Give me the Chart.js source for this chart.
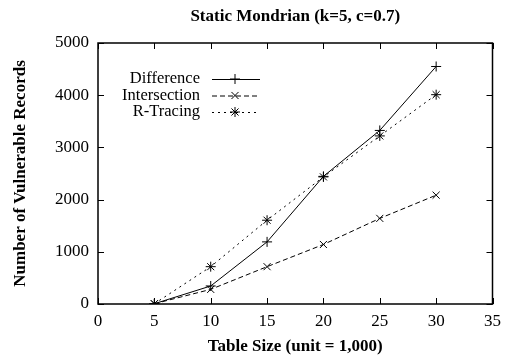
<!DOCTYPE html>
<html><head><meta charset="utf-8">
<script src="https://cdn.jsdelivr.net/npm/chart.js@4/dist/chart.umd.min.js"></script>
<style>html,body{margin:0;padding:0;background:#fff}#wrap{width:508px;height:360px}</style>
</head><body><div id="wrap"><canvas id="c" width="508" height="360"></canvas></div>
<script>
const tableSizes = [5, 10, 15, 20, 25, 30];
const difference = [5, 345, 1190, 2445, 3325, 4550];
const intersection = [5, 280, 715, 1140, 1640, 2085];
const rTracing = [5, 715, 1605, 2435, 3220, 4010];
const xTicks = [0, 5, 10, 15, 20, 25, 30, 35];
const yTicks = [0, 1000, 2000, 3000, 4000, 5000];
const seriesNames = ['Difference', 'Intersection', 'R-Tracing'];

const serif = "'Liberation Serif', 'Times New Roman', serif";
const pts = arr => tableSizes.map((x, i) => ({x, y: arr[i]}));

const inwardTicks = {
  id: 'inwardTicks',
  afterDraw(chart) {
    const ctx = chart.ctx, a = chart.chartArea;
    const xs = chart.scales.x, ys = chart.scales.y;
    const L = 6;
    ctx.save();
    ctx.strokeStyle = '#000'; ctx.lineWidth = 1;
    ctx.beginPath();
    xTicks.forEach(v => {
      const px = Math.round(xs.getPixelForValue(v)) + 0.5;
      ctx.moveTo(px, a.bottom); ctx.lineTo(px, a.bottom - L);
      ctx.moveTo(px, a.top); ctx.lineTo(px, a.top + L);
    });
    yTicks.forEach(v => {
      const py = Math.round(ys.getPixelForValue(v)) + 0.5;
      ctx.moveTo(a.left, py); ctx.lineTo(a.left + L, py);
      ctx.moveTo(a.right, py); ctx.lineTo(a.right - L, py);
    });
    ctx.stroke();
    ctx.lineWidth = 1.5;
    ctx.strokeRect(a.left, a.top, a.right - a.left, a.bottom - a.top);
    // legend inside plot
    ctx.font = "16.5px " + serif;
    ctx.textAlign = 'right'; ctx.textBaseline = 'middle'; ctx.fillStyle = '#000';
    chart.data.datasets.forEach((ds, i) => {
      const y = a.top + 36 + i * 16.5;
      ctx.fillText(ds.label, a.left + 102, y);
      ctx.lineWidth = 1;
      ctx.setLineDash(ds.borderDash || []);
      ctx.beginPath(); ctx.moveTo(a.left + 114, y + 0.5); ctx.lineTo(a.left + 162, y + 0.5); ctx.stroke();
      ctx.setLineDash([]);
      Chart.helpers.drawPoint(ctx, {pointStyle: ds.pointStyle, radius: 5, borderWidth: 1}, a.left + 137, y);
    });
    ctx.restore();
  }
};

new Chart(document.getElementById('c'), {
  type: 'line',
  data: {
    datasets: [
      {label: seriesNames[0], data: pts(difference), borderDash: [], pointStyle: 'cross'},
      {label: seriesNames[1], data: pts(intersection), borderDash: [5, 3], pointStyle: 'crossRot'},
      {label: seriesNames[2], data: pts(rTracing), borderDash: [2, 4], pointStyle: 'star'}
    ].map(d => Object.assign(d, {
      borderColor: '#000', backgroundColor: '#000', borderWidth: 1,
      pointRadius: 5, pointBorderWidth: 1, pointBorderColor: '#000', tension: 0
    }))
  },
  options: {
    responsive: false, animation: false,
    layout: {padding: {left: 10, right: 0, top: 0, bottom: 3}},
    plugins: {
      legend: {display: false},
      tooltip: {enabled: false},
      title: {display: true, fullSize: false, text: 'Static Mondrian (k=5, c=0.7)', color: '#000',
        font: {family: serif, size: 17, weight: 'bold'}, padding: {top: 6, bottom: 6}}
    },
    scales: {
      x: {type: 'linear', min: 0, max: 35,
        afterBuildTicks: s => { s.ticks = xTicks.map(v => ({value: v})); },
        grid: {display: false, drawTicks: false}, border: {display: false},
        ticks: {color: '#000', font: {family: serif, size: 17}, padding: 7, callback: v => String(v)},
        title: {display: true, text: 'Table Size (unit = 1,000)', color: '#000',
          font: {family: serif, size: 17, weight: 'bold'}, padding: {top: 0, bottom: 0}},
        afterFit: s => { s.height = 53; }
      },
      y: {min: 0, max: 5000,
        afterBuildTicks: s => { s.ticks = yTicks.map(v => ({value: v})); },
        grid: {display: false, drawTicks: false}, border: {display: false},
        ticks: {color: '#000', font: {family: serif, size: 17}, padding: 9, callback: v => String(v)},
        title: {display: true, text: 'Number of Vulnerable Records', color: '#000',
          font: {family: serif, size: 17, weight: 'bold'}, padding: {top: 0, bottom: 0}},
        afterFit: s => { s.width = 88; }
      },
      x2: {type: 'linear', position: 'top', min: 0, max: 35, display: true,
        grid: {display: false, drawTicks: false}, border: {display: false},
        ticks: {display: false}, afterFit: s => { s.height = 10.6; }},
      y2: {position: 'right', min: 0, max: 5000, display: true,
        grid: {display: false, drawTicks: false}, border: {display: false},
        ticks: {display: false}, afterFit: s => { s.width = 15; }}
    }
  },
  plugins: [inwardTicks]
});
</script></body></html>
